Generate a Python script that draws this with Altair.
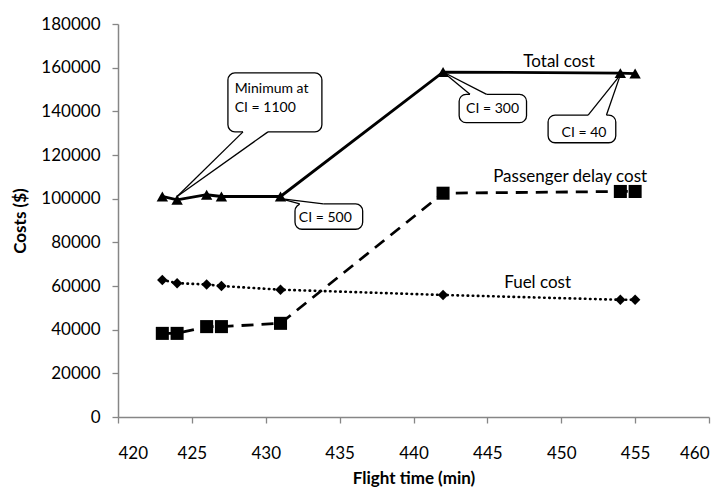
import altair as alt
import pandas as pd

# ---- data ----
flight_time = [423, 424, 426, 427, 431, 442, 454, 455]
total_cost = [101000, 99500, 101800, 101000, 101000, 158000, 157500, 157300]
delay_cost = [38300, 38300, 41400, 41400, 42900, 102500, 103300, 103300]
fuel_cost = [62800, 61300, 60700, 60000, 58300, 55900, 53700, 53700]

x_ticks = [420, 425, 430, 435, 440, 445, 450, 455, 460]
y_ticks = [0, 20000, 40000, 60000, 80000, 100000, 120000, 140000, 160000, 180000]

series_names = ["Total cost", "Passenger delay cost", "Fuel cost"]
series_label_x = [449.85, 450.6, 448.4]
series_label_y = [162600, 109800, 61200]

# callout boxes (data units)
box_x1 = [427.44, 431.98, 443.09, 449.11]
box_x2 = [433.80, 436.56, 447.65, 453.69]
box_y1 = [130600, 86000, 134800, 125600]
box_y2 = [157600, 97600, 147800, 138300]
# wedge: base on a box edge, tip at a point
wedge_bx1 = [428.46, 432.3, 443.82, 451.82]
wedge_bx2 = [430.15, 433.9, 444.95, 453.06]
wedge_by = [130600, 97600, 147800, 138300]
wedge_tx = [424, 431, 442, 454]
wedge_ty = [101000, 100000, 158000, 156700]
# callout texts
callout_text = ["Minimum at", "CI = 1100", "CI = 500", "CI = 300", "CI = 40"]
callout_tx = [427.9, 427.9, 434.03, 445.35, 451.54]
callout_ty = [150100, 141400, 91000, 141000, 130200]
callout_align = ["left", "left", "center", "center", "center"]

FONT = "Lato"

df = pd.DataFrame({
    "time": flight_time * 3,
    "cost": total_cost + delay_cost + fuel_cost,
    "series": [series_names[0]] * 8 + [series_names[1]] * 8 + [series_names[2]] * 8,
})

xs = alt.Scale(domain=[420, 460], nice=False, zero=False)
ys = alt.Scale(domain=[0, 180000], nice=False)

x_axis = alt.Axis(values=x_ticks, title="Flight time (min)", grid=False,
                  labelPadding=30, labelBaseline="middle",
                  titleX=295.5, titleY=61, titleBaseline="middle", titleAlign="center")
y_axis = alt.Axis(values=y_ticks, title="Costs ($)", grid=False, format="d",
                  labelPadding=12,
                  titleX=-98, titleY=196.5, titleAngle=270, titleAlign="center",
                  titleBaseline="middle")

X = alt.X("time:Q", scale=xs, axis=x_axis)
Y = alt.Y("cost:Q", scale=ys, axis=y_axis)

base = alt.Chart(df).encode(x=X, y=Y)

total_line = base.transform_filter(alt.datum.series == series_names[0]).mark_line(
    color="black", strokeWidth=2.8)
total_pts = base.transform_filter(alt.datum.series == series_names[0]).mark_point(
    shape="triangle-up", filled=True, size=130, color="black", opacity=1)
delay_line = base.transform_filter(alt.datum.series == series_names[1]).mark_line(
    color="black", strokeWidth=2.8, strokeDash=[12, 8])
delay_pts = base.transform_filter(alt.datum.series == series_names[1]).mark_point(
    shape="square", filled=True, size=170, color="black", opacity=1)
fuel_line = base.transform_filter(alt.datum.series == series_names[2]).mark_line(
    color="black", strokeWidth=2.6, strokeDash=[0.5, 4.6], strokeCap="round")
fuel_pts = base.transform_filter(alt.datum.series == series_names[2]).mark_point(
    shape="diamond", filled=True, size=110, color="black", opacity=1)

labels_df = pd.DataFrame({"x": series_label_x, "y": series_label_y, "t": series_names})
series_labels = alt.Chart(labels_df).mark_text(
    font=FONT, fontSize=17, color="black", align="center", baseline="middle"
).encode(x=alt.X("x:Q", scale=xs), y=alt.Y("y:Q", scale=ys), text="t:N")

box_df = pd.DataFrame({"x1": box_x1, "x2": box_x2, "y1": box_y1, "y2": box_y2})
boxes = alt.Chart(box_df).mark_rect(
    fill="white", stroke="black", strokeWidth=1.3, cornerRadius=7
).encode(x=alt.X("x1:Q", scale=xs), x2="x2:Q", y=alt.Y("y1:Q", scale=ys), y2="y2:Q")

wedge_df = pd.DataFrame({"bx1": wedge_bx1, "bx2": wedge_bx2, "by": wedge_by,
                         "tx": wedge_tx, "ty": wedge_ty})
wedge_cover = alt.Chart(wedge_df).mark_rule(color="white", strokeWidth=3).encode(
    x=alt.X("bx1:Q", scale=xs), x2="bx2:Q", y=alt.Y("by:Q", scale=ys))
wedge_side1 = alt.Chart(wedge_df).mark_rule(color="black", strokeWidth=1.3).encode(
    x=alt.X("bx1:Q", scale=xs), x2="tx:Q", y=alt.Y("by:Q", scale=ys), y2="ty:Q")
wedge_side2 = alt.Chart(wedge_df).mark_rule(color="black", strokeWidth=1.3).encode(
    x=alt.X("bx2:Q", scale=xs), x2="tx:Q", y=alt.Y("by:Q", scale=ys), y2="ty:Q")

ct_df = pd.DataFrame({"x": callout_tx, "y": callout_ty, "t": callout_text,
                      "a": callout_align})
ct_left = alt.Chart(ct_df).transform_filter(alt.datum.a == "left").mark_text(
    font=FONT, fontSize=14, color="black", align="left", baseline="middle"
).encode(x=alt.X("x:Q", scale=xs), y=alt.Y("y:Q", scale=ys), text="t:N")
ct_center = alt.Chart(ct_df).transform_filter(alt.datum.a == "center").mark_text(
    font=FONT, fontSize=14, color="black", align="center", baseline="middle"
).encode(x=alt.X("x:Q", scale=xs), y=alt.Y("y:Q", scale=ys), text="t:N")

chart = alt.layer(
    fuel_line, delay_line, total_line,
    fuel_pts, delay_pts, total_pts,
    series_labels,
    boxes, wedge_cover, wedge_side1, wedge_side2, ct_left, ct_center,
).properties(
    width=591, height=393,
    autosize=alt.AutoSizeParams(type="none"),
    padding={"left": 110, "top": 16, "right": 9, "bottom": 76},
).configure_view(
    stroke=None
).configure_axis(
    domainColor="#868686", domainWidth=1.5, tickColor="#868686", tickWidth=1.3,
    tickSize=6, labelFont=FONT, labelFontSize=17, labelColor="black",
    titleFont=FONT, titleFontSize=17, titleFontWeight="bold", titleColor="black",
)

chart.save("out.html", embed_options={"renderer": "svg", "actions": False})
